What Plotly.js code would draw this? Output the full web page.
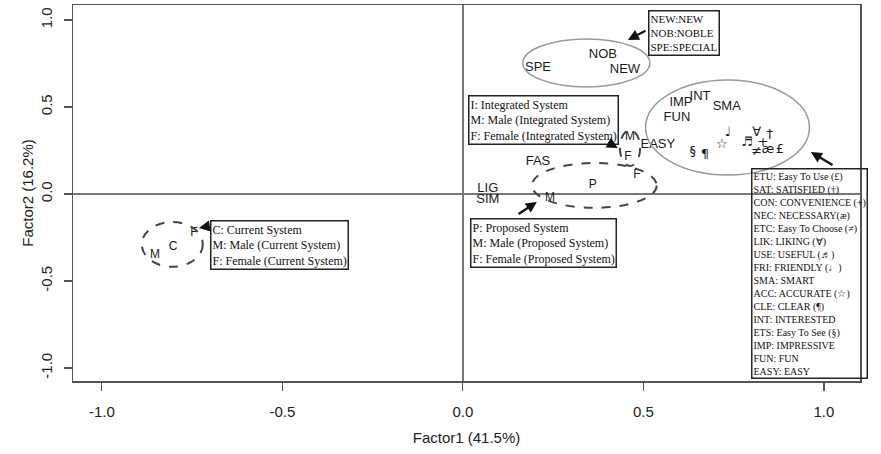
<!DOCTYPE html>
<html>
<head>
<meta charset="utf-8">
<script src="https://cdn.plot.ly/plotly-3.0.1.min.js"></script>
<style>html,body{margin:0;padding:0;background:#fff;}#chart{width:881px;height:454px;}</style>
</head>
<body>
<div id="chart"></div>
<script>
// Attribute word labels
const wordLabels = ['SPE','NOB','NEW','IMP','INT','SMA','FUN','EASY','FAS','LIG','SIM'];
const wordX = [0.208,0.388,0.449,0.604,0.657,0.731,0.593,0.540,0.208,0.069,0.069];
const wordY = [0.724,0.799,0.713,0.523,0.557,0.500,0.437,0.282,0.184,0.029,-0.035];

// Attribute symbol labels
const symLabels = ['§','¶','☆','♩','♬','∀','+','†','≠','æ','£'];
const symX = [0.637,0.670,0.717,0.734,0.787,0.814,0.831,0.850,0.814,0.845,0.878];
const symY = [0.241,0.224,0.282,0.351,0.293,0.351,0.293,0.339,0.241,0.253,0.253];

// System / gender group labels
const groupLabels = ['M','C','F','M','F','P','M','F'];
const groupX = [-0.853,-0.803,-0.745,0.463,0.457,0.360,0.241,0.482];
const groupY = [-0.351,-0.305,-0.224,0.328,0.213,0.052,-0.023,0.109];

// Cluster ellipses (centre, radii)
const ellCX = [0.342,0.733,0.463,0.364,-0.805];
const ellCY = [0.753,0.382,0.264,0.049,-0.290];
const ellRX = [0.176,0.227,0.028,0.173,0.0845];
const ellRY = [0.138,0.273,0.103,0.129,0.129];
const ellDashed = [false,false,true,true,true];

// Key boxes
const boxTexts = [
  ['NEW:NEW','NOB:NOBLE','SPE:SPECIAL'],
  ['I: Integrated System','M: Male (Integrated System)','F: Female (Integrated System)'],
  ['P: Proposed System','M: Male (Proposed System)','F: Female (Proposed System)'],
  ['C: Current System','M: Male (Current System)','F: Female (Current System)'],
  ['ETU: Easy To Use (£)','SAT: SATISFIED (†)','CON: CONVENIENCE (+)','NEC: NECESSARY(æ)',
   'ETC: Easy To Choose (≠)','LIK: LIKING (∀)','USE: USEFUL (♬)','FRI: FRIENDLY (♩)',
   'SMA: SMART','ACC: ACCURATE (☆)','CLE: CLEAR (¶)','INT: INTERESTED',
   'ETS: Easy To See (§)','IMP: IMPRESSIVE','FUN: FUN','EASY: EASY']
];
const boxX = [0.512,0.014,0.019,-0.701,0.798];
const boxY = [1.057,0.569,-0.138,-0.149,0.149];
const boxFont = [11,12,12,12,10];

// Arrows: tail -> head
const arrTailX = [0.510,0.399,0.150,-0.701,1.028];
const arrTailY = [0.943,0.299,-0.121,-0.184,0.161];
const arrHeadX = [0.457,0.429,0.205,-0.731,0.964];
const arrHeadY = [0.885,0.264,-0.046,-0.195,0.241];

const labelFont = {family:'Liberation Sans, Arial, sans-serif', size:13, color:'#1a1a1a'};

const traces = [
  {type:'scatter', mode:'text', x:wordX, y:wordY, text:wordLabels, textposition:'middle center',
   textfont:labelFont, hoverinfo:'text', showlegend:false},
  {type:'scatter', mode:'text', x:symX, y:symY, text:symLabels, textposition:'middle center',
   textfont:{family:'DejaVu Sans, sans-serif', size:13, color:'#1a1a1a'}, hoverinfo:'text', showlegend:false},
  {type:'scatter', mode:'text', x:groupX, y:groupY, text:groupLabels, textposition:'middle center',
   textfont:{family:'Liberation Sans, Arial, sans-serif', size:12, color:'#1a1a1a'}, hoverinfo:'text', showlegend:false}
];

const shapes = ellCX.map((cx,i)=>({
  type:'circle', xref:'x', yref:'y',
  x0:cx-ellRX[i], x1:cx+ellRX[i], y0:ellCY[i]-ellRY[i], y1:ellCY[i]+ellRY[i],
  line: ellDashed[i] ? {color:'#444', width:2, dash:'dash'} : {color:'#999', width:1.5}
}));

const annotations = [];
boxTexts.forEach((lines,i)=>{
  annotations.push({
    xref:'x', yref:'y', x:boxX[i], y:boxY[i], xanchor:'left', yanchor:'top',
    text:lines.join('<br>'), align:'left', showarrow:false,
    font:{family:'Liberation Serif, Times New Roman, serif', size:boxFont[i], color:'#111'},
    bordercolor:'#222', borderwidth:1.5, borderpad:1, bgcolor:'rgba(255,255,255,0)'
  });
});
arrHeadX.forEach((hx,i)=>{
  annotations.push({
    xref:'x', yref:'y', axref:'x', ayref:'y', x:hx, y:arrHeadY[i], ax:arrTailX[i], ay:arrTailY[i],
    text:'', showarrow:true, arrowhead:2, arrowsize:1, arrowwidth:2.2, arrowcolor:'#111'
  });
});

const layout = {
  width:881, height:454,
  margin:{l:73, r:21, t:5, b:73},
  paper_bgcolor:'#fff', plot_bgcolor:'#fff',
  showlegend:false,
  font:{family:'Liberation Sans, Arial, sans-serif', color:'#222'},
  xaxis:{
    range:[-1.080,1.100], tickvals:[-1,-0.5,0,0.5,1], ticktext:['-1.0','-0.5','0.0','0.5','1.0'],
    ticks:'outside', ticklen:8, tickwidth:1.2, tickcolor:'#555',
    showline:true, mirror:true, linecolor:'#555', linewidth:1.5,
    showgrid:false, zeroline:true, zerolinecolor:'#777', zerolinewidth:1.5,
    tickfont:{size:15, color:'#222'}, ticklabelstandoff:8,
    title:{text:'Factor1 (41.5%)', font:{size:15, color:'#222'}, standoff:14}
  },
  yaxis:{
    range:[-1.075,1.086], tickvals:[-1,-0.5,0,0.5,1], ticktext:['-1.0','-0.5','0.0','0.5','1.0'],
    tickangle:-90,
    ticks:'outside', ticklen:8, tickwidth:1.2, tickcolor:'#555',
    showline:true, mirror:true, linecolor:'#555', linewidth:1.5,
    showgrid:false, zeroline:true, zerolinecolor:'#777', zerolinewidth:1.5,
    tickfont:{size:15, color:'#222'}, ticklabelstandoff:6,
    title:{text:'Factor2 (16.2%)', font:{size:15, color:'#222'}, standoff:0}
  },
  shapes:shapes,
  annotations:annotations
};

Plotly.newPlot('chart', traces, layout, {displayModeBar:false, staticPlot:true});
</script>
</body>
</html>
